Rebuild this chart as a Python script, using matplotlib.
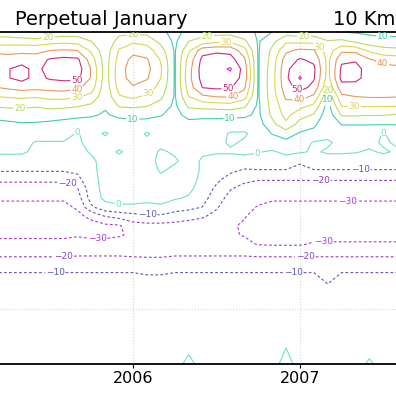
import numpy as np
import matplotlib
matplotlib.use('Agg')
import matplotlib.pyplot as plt

# monthly time axis (Mar 2005 .. Jul 2007) and latitude rows (top to bottom)
time = 2005 + np.arange(2, 33) / 12.0
lat = [90, 85, 80, 75, 70, 65, 60, 55, 50, 45, 40, 35, 30, 25, 20, 15, 10, 5, 0,
       -5, -10, -15, -20, -25, -30, -35, -40, -45, -50, -60, -70, -80, -90]

# lower halves of the profiles that repeat (rows 15..32)
low_left = [-9, -18, -25, -29, -32, -34, -35, -32, -27, -23, -15, -10.3, -7, -5, -3, -2, -2, -2]
low_right = [-10.5, -19.5, -25, -29, -32, -35, -35, -33, -29, -23, -15, -10.3, -7, -5, -3, -2, -2, -2]

# one profile per month, values read from top (90) to bottom (-90)
profiles = [
    [16, 24, 38, 44, 45, 44, 39.5, 29.5, 21, 13, 7, 4, 2, 1, -3] + low_left,
    [14, 25, 37, 44, 49.5, 49.5, 42, 31, 22, 14, 8, 4, 2, 1, -3] + low_left,
    [11, 25, 37, 46, 53, 53, 44, 32, 22, 15, 9, 4, 2, 1, -3] + low_left,
    [9.5, 24, 37, 45, 47, 47, 43, 31, 21, 14, 9, 3, -0.5, -1.5, -3] + low_left,
    [12, 26, 40, 51, 54, 51, 44, 33, 23, 14, 8, 3, -0.5, -1.5, -3] + low_left,
    [14, 27, 41, 53, 56, 52, 45, 33, 22.5, 13, 7, 3, -0.5, -1.5, -3] + low_left,
    [14, 26, 40, 52, 55, 53, 42, 31, 21, 12, 6, -0.5, -0.5, -1.5, -2,
     -8, -13, -20.5, -25, -29, -32, -33, -31, -26, -22, -15, -10.3, -7, -5, -3, -2, -2, -2],
    [12, 20, 28, 35, 39, 39, 35, 27, 18, 11, 6, 3, 1, 0.5, -1,
     -2, -3, -4, -5, -12, -28, -33, -32, -27, -22, -15, -10.3, -7, -5, -3, -2, -2, -2],
    [11, 12, 14, 15, 15, 15, 14, 13, 11, 9, 5, -1, 3, 3, 2,
     3, 3, 3, 2, -3, -20, -32, -32, -27, -22, -15, -10.3, -7, -5, -3, -2, -2, -2],
    [17, 24, 31, 34, 36, 36, 34, 29, 21, 12, 6, 4, 3, -1, 3,
     3, 3, 3, 2, -1, -17, -31, -31, -26, -22, -15, -10.3, -7, -5, -3, -2, -2, -2],
    [17, 28, 37, 43, 45, 44, 39, 32, 22, 13, 7, 4, 3, 3, 3,
     3, 3, 3, 2, -1, -14, -24, -28, -27, -23, -15, -10.3, -7, -5, -3, -2, -2, -2],
    [17, 26, 35, 41, 43, 41, 35, 28, 20.5, 12, 7, -1, 2, 3, 3,
     4, 3, 3, 2, -2, -12, -23, -27, -27, -23, -16, -11, -8, -5, -3, -2, -2, -2],
    [12, 17, 24, 29, 31, 30, 27, 22, 16, 10.5, 6, 4, 2, -1, -2,
     -1, 2, 3, 2, -1, -12, -23, -26, -26, -23, -16, -11, -8, -5, -3, -2, -2, -2],
    [7, 8, 9, 9, 9, 9, 9, 9, 8, 7, 5, 3, 2, 1, -1,
     2, 3, 3, 1, -5, -15, -23, -26, -26, -22, -15, -10.3, -7, -5, -3, -2, -2, -2],
    [13, 20, 28, 34, 36, 37, 35, 30, 22, 13, 7, 4, 3, 3, 3,
     3, 3, 2, -1, -7, -17, -24, -27, -26, -22, -15, -10.3, -7, -5, -3, -2, -1.5, 1.5],
    [15, 24, 46, 53, 55, 54, 50.5, 38, 24, 12, 7, 4, 3, 1, -1,
     -1, -2, -4, -6, -10.3, -19, -25, -27, -26, -22, -15, -10.3, -7, -5, -3, -2, -2, -2],
    [16, 27, 48, 55, 57, 56, 52, 40.5, 25, 12, 7, 4, 2, 0.5, -2,
     -5, -8, -12, -16, -19, -23, -27, -28, -27, -22, -15, -10.3, -7, -5, -3, -2, -2, -2],
    [16, 28, 47, 54, 61, 57, 51, 41, 26, 12, 6, -1, -1, 1, -4,
     -8, -14, -19.5, -23, -26, -28, -29, -29, -27, -22, -15, -10.3, -7, -5, -3, -2, -2, -2],
    [13, 22, 34, 42, 46, 46, 42, 34, 22, 12, 5, -1, 1, 2, -4,
     -11, -18, -23, -26, -28, -29.5, -31, -30.5, -28, -22, -15, -10.3, -7, -5, -3, -2, -2, -2],
    [9, 9, 9, 9, 9, 9, 9, 9, 8, 8, 6, 3, 1, 0.5, -4,
     -10.5, -19.5, -25, -28, -30.5, -33, -34, -33, -30.5, -23, -15, -10.3, -7, -5, -3, -2, -2, -2],
    [10, 17, 22, 24, 25, 26, 26, 25, 24, 22, 17, 10.5, 5, -1, -4,
     -10.5, -19.5, -25, -29, -32, -35, -35, -33, -31, -23, -15, -10.3, -7, -5, -3, -2, -2, -2],
    [15, 28, 38, 45, 48, 48, 46, 42, 36, 33, 28, 15, 7, 2, -4,
     -10.5, -19.5, -25, -29, -32, -35, -35, -33, -31, -23, -15, -10.3, -7, -5, -3, -1, -0.3, 2],
    [14, 27, 42, 51, 56, 61, 54, 44, 33, 24, 16, 9, 5, 1, -9.5,
     -11, -19.5, -25, -29, -32, -35, -35, -33, -31, -23, -15, -10.3, -7, -5, -3, -2, -2, -2],
    [14, 27, 41, 48, 52, 51, 47, 38, 28, 19, 12, 7, -1, -1, -4] + low_right,
    [12, 20.5, 25, 27, 27, 26, 22, 12, 6, 4, 3, 2, -1, 1, -4,
     -10.5, -19.5, -25, -29, -32, -35, -35, -33, -29, -23, -15, -12, -11, -8, -3, -2, -2, -2],
    [10, 22, 38, 48, 52, 53, 46, 38, 30.5, 21, 10.5, 4, 2, 1, -4] + low_right,
    [9, 18, 37, 49, 53, 52, 47, 40, 31, 21, 10.5, 4, 2, 0.5, -4] + low_right,
    [8, 14, 28, 41, 46, 47, 45, 41, 31, 20.5, 10.5, 4, 2, -1, -4] + low_right[:-1] + [0.8],
    [8, 12, 24, 36, 44, 46, 45, 41, 31, 20.5, 10.5, -0.5, -1, 1, -4] + low_right,
    [8, 12, 23, 35, 43, 46, 45, 40.5, 30.5, 19, 10.5, 3, 1, -1, -4] + low_right,
    [8, 12, 23, 35, 43, 46, 45, 40.5, 30.5, 19, 10.5, 3, 1, -1, -4] + low_right,
]

levels = [-30, -20, -10, 0, 10, 20, 30, 40, 50, 60]
level_colors = ['#a83ad8', '#8a44c8', '#5a5ab8', '#72e2bc', '#44cca8',
                '#b8dc5c', '#dcd64c', '#e49a58', '#d02878', '#e020c8']

# where the contour labels sit, in picture pixels (x from left, y from top)
label_spots = {
    -30: [(97, 237), (347, 202), (323, 245)],
    -20: [(67, 184), (320, 180), (63, 257), (305, 257)],
    -10: [(147, 215), (360, 170), (55, 272), (293, 272)],
    0: [(77, 126), (118, 207), (258, 158), (383, 131)],
    10: [(133, 116), (230, 118), (328, 99), (383, 35)],
    20: [(48, 37), (20, 110), (133, 36), (207, 35), (304, 35), (328, 90)],
    30: [(77, 97), (147, 92), (226, 43), (321, 44), (354, 107)],
    40: [(77, 90), (233, 97), (299, 100), (383, 62)],
    50: [(77, 82), (228, 88), (296, 91)],
}

field = np.array(profiles, dtype=float).T

fig = plt.figure(figsize=(3.96, 3.96), dpi=100)
ax = fig.add_axes([0, 32 / 396, 1, 332 / 396])
ax.set_xlim(2006 - 133 / 166.7, 2007 + 96 / 166.7)
ax.set_ylim(-90, 90)

for x in [2006, 2007]:
    ax.axvline(x, color='#d8d8d8', lw=0.8, ls=':', zorder=0)
ax.axhline(-60, color='#d8d8d8', lw=0.8, ls=':', zorder=0)

styles = ['solid' if lev >= 0 else (0, (2.5, 2)) for lev in levels]
cs = ax.contour(time, lat, field, levels=levels, colors=level_colors,
                linewidths=0.8, linestyles=styles)


def fmt(v):
    return f'{v:.0f}'.replace('-', '\u2212')


def px_to_data(px, py):
    return 2006 + (px - 133) / 166.7, 90 - (py - 32) * 180 / 332


# set up label state for all levels, then place each label on its own level
cs.clabel(levels, fmt=fmt, fontsize=6.5, inline=True, inline_spacing=1, manual=[])
for lev, spots in label_spots.items():
    idx = levels.index(lev)
    cs.labelIndiceList = [idx]
    cs.labelLevelList = [lev] + levels[1:]
    for px, py in spots:
        cs.add_label_near(*px_to_data(px, py), inline=True, inline_spacing=1)
for t in cs.labelTexts:
    t.set_rotation(0)

ax.set_xticks([2006, 2007])
ax.set_xticklabels(['2006', '2007'])
ax.set_yticks([])
ax.tick_params(axis='x', direction='out', length=3, width=0.8, labelsize=11.5, pad=2)
ax.spines['left'].set_visible(False)
ax.spines['right'].set_visible(False)
ax.spines['top'].set_linewidth(1.3)
ax.spines['bottom'].set_linewidth(1.3)

fig.text(15 / 396, 1 - 25 / 396, 'Perpetual January', fontsize=14, va='baseline')
fig.text(333 / 396, 1 - 25 / 396, '10 Km', fontsize=14, va='baseline')

fig.savefig('out.png', dpi=100)
